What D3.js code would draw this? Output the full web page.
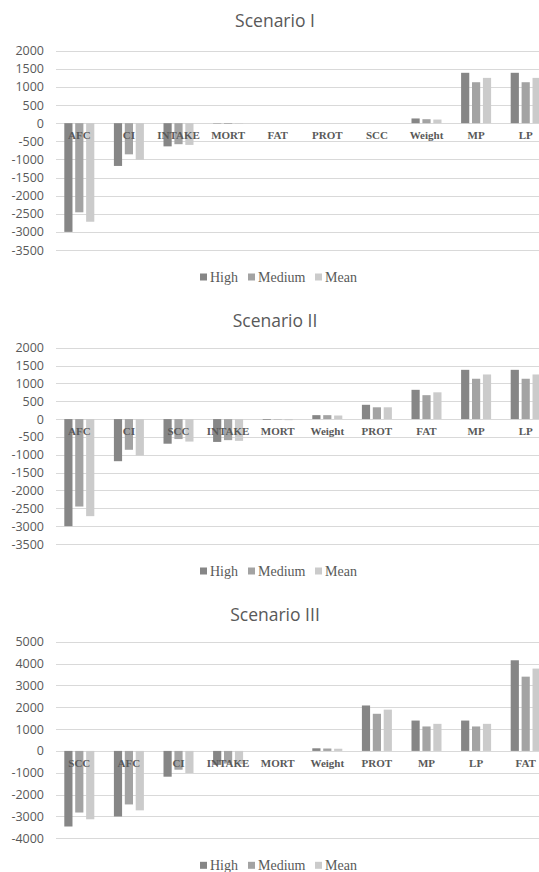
<!DOCTYPE html>
<html>
<head>
<meta charset="utf-8">
<script src="https://cdn.jsdelivr.net/npm/d3@7"></script>
<style>
  html, body { margin: 0; padding: 0; background: #fff; }
  svg { display: block; }
</style>
</head>
<body>
<svg id="chart" width="539" height="872"></svg>
<script>
// ---------- DATA ----------
const seriesNames = ["High", "Medium", "Mean"];
const seriesColors = ["#868686", "#a3a3a3", "#cbcbcb"];

const titles = ["Scenario I", "Scenario II", "Scenario III"];

const cats1   = ["AFC", "CI", "INTAKE", "MORT", "FAT", "PROT", "SCC", "Weight", "MP", "LP"];
const high1   = [-3000, -1180, -640, -10, 0, 0, 0, 130, 1390, 1390];
const medium1 = [-2460, -860, -580, -20, 0, 0, 0, 110, 1130, 1130];
const mean1   = [-2720, -1010, -600, -15, 0, 0, 0, 100, 1250, 1250];
const ticks1  = [2000, 1500, 1000, 500, 0, -500, -1000, -1500, -2000, -2500, -3000, -3500];

const cats2   = ["AFC", "CI", "SCC", "INTAKE", "MORT", "Weight", "PROT", "FAT", "MP", "LP"];
const high2   = [-3000, -1180, -690, -640, -20, 110, 400, 820, 1380, 1380];
const medium2 = [-2450, -860, -560, -590, -10, 110, 330, 670, 1130, 1130];
const mean2   = [-2720, -1020, -630, -610, -30, 100, 330, 750, 1250, 1250];
const ticks2  = [2000, 1500, 1000, 500, 0, -500, -1000, -1500, -2000, -2500, -3000, -3500];

const cats3   = ["SCC", "AFC", "CI", "INTAKE", "MORT", "Weight", "PROT", "MP", "LP", "FAT"];
const high3   = [-3460, -3000, -1180, -640, 0, 120, 2080, 1390, 1390, 4150];
const medium3 = [-2820, -2450, -860, -580, 0, 110, 1700, 1120, 1120, 3400];
const mean3   = [-3130, -2720, -1010, -600, 0, 100, 1890, 1240, 1240, 3770];
const ticks3  = [5000, 4000, 3000, 2000, 1000, 0, -1000, -2000, -3000, -4000];

// ---------- DRAW ----------
const svg = d3.select("#chart");
const plotLeft = 54.5;
const catStep = 49.6;

function drawChart(title, cats, series, ticks, yTop, yBottom, titleY) {
  const g = svg.append("g");
  const domainMax = d3.max(ticks), domainMin = d3.min(ticks);
  const y = d3.scaleLinear().domain([domainMin, domainMax]).range([yBottom, yTop]);
  const x = d3.scaleBand().domain(cats)
    .range([plotLeft, plotLeft + catStep * cats.length]).paddingInner(0).paddingOuter(0);
  const xs = d3.scaleBand().domain(seriesNames).range([-15, 15]).paddingInner(0.25);

  // title
  g.append("text")
    .attr("x", 275).attr("y", titleY)
    .attr("text-anchor", "middle")
    .attr("font-family", "'Open Sans', sans-serif")
    .attr("font-size", 17.5)
    .attr("fill", "#595959")
    .text(title);

  // gridlines
  g.append("g").selectAll("line").data(ticks).join("line")
    .attr("x1", 56).attr("x2", 539)
    .attr("y1", d => Math.round(y(d)) + 0.5).attr("y2", d => Math.round(y(d)) + 0.5)
    .attr("stroke", "#d9d9d9").attr("stroke-width", 1);

  // y axis labels
  const yAxis = d3.axisLeft(y).tickValues(ticks).tickSize(0).tickPadding(0)
    .tickFormat(d => String(d));
  const ya = g.append("g").attr("transform", "translate(44,0)").call(yAxis);
  ya.select(".domain").remove();
  ya.selectAll("text")
    .attr("font-family", "'Open Sans', sans-serif")
    .attr("font-size", 12.5)
    .attr("fill", "#595959");

  // bars
  const rows = cats.map((c, i) => ({ cat: c, vals: series.map(s => s[i]) }));
  const grp = g.append("g").selectAll("g").data(rows).join("g")
    .attr("transform", d => `translate(${x(d.cat) + x.bandwidth() / 2},0)`);
  grp.selectAll("rect").data(d => d.vals.map((v, j) => ({ v, s: seriesNames[j], j })))
    .join("rect")
    .attr("x", d => xs(d.s))
    .attr("width", xs.bandwidth())
    .attr("y", d => Math.min(y(0), y(d.v)))
    .attr("height", d => Math.abs(y(d.v) - y(0)))
    .attr("fill", d => seriesColors[d.j]);

  // category labels
  g.append("g").selectAll("text").data(cats).join("text")
    .attr("x", d => x(d) + x.bandwidth() / 2)
    .attr("y", y(0) + 16)
    .attr("text-anchor", "middle")
    .attr("font-family", "'Liberation Serif', 'Times New Roman', serif")
    .attr("font-weight", "bold")
    .attr("font-size", 11)
    .attr("fill", "#595959")
    .text(d => d);

  // legend
  const legY = yBottom + 27;
  const legX = [200, 248, 315];
  const lg = g.append("g");
  seriesNames.forEach((n, i) => {
    lg.append("rect").attr("x", legX[i]).attr("y", legY - 3.5).attr("width", 7).attr("height", 7)
      .attr("fill", seriesColors[i]);
    lg.append("text").attr("x", legX[i] + 10).attr("y", legY + 4.5)
      .attr("font-family", "'Liberation Serif', 'Times New Roman', serif")
      .attr("font-size", 14)
      .attr("fill", "#595959")
      .text(n);
  });
}

drawChart(titles[0], cats1, [high1, medium1, mean1], ticks1, 50.7, 250, 27);
drawChart(titles[1], cats2, [high2, medium2, mean2], ticks2, 347.7, 544, 327);
drawChart(titles[2], cats3, [high3, medium3, mean3], ticks3, 641.7, 838.3, 621);
</script>
</body>
</html>
